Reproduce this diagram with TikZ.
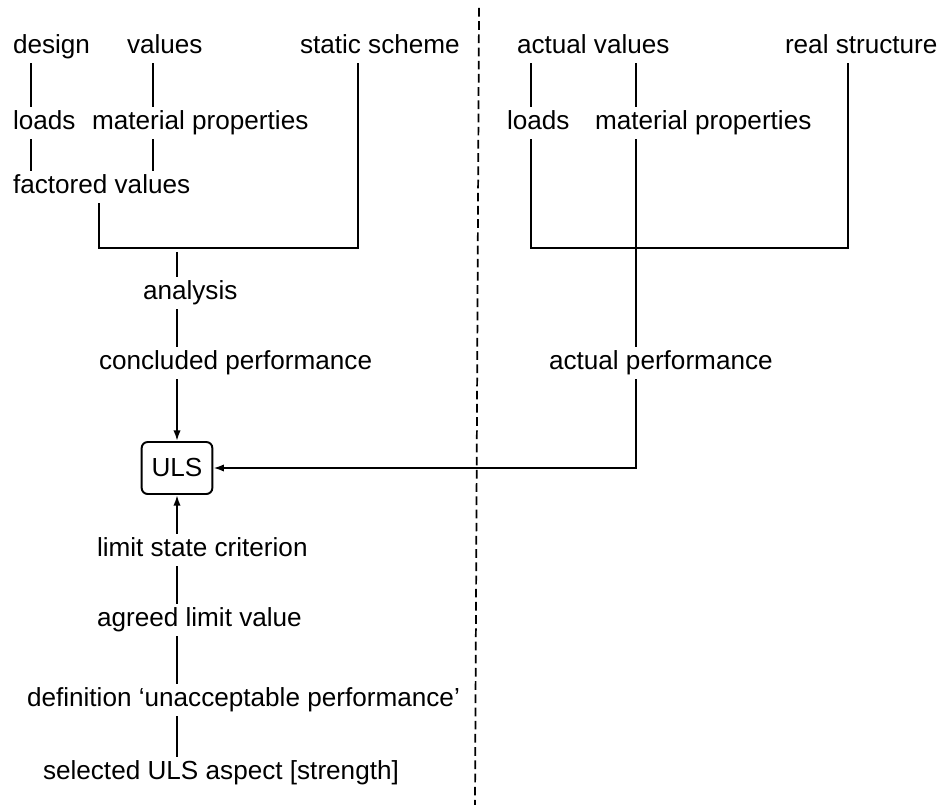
\documentclass[tikz,border=0pt]{standalone}
\usepackage{fontspec}
\setmainfont{Liberation Sans}
\usetikzlibrary{arrows.meta}
\begin{document}
\begin{tikzpicture}[x=0.75pt,y=-0.75pt,
  lbl/.style={anchor=west,inner sep=0pt,outer sep=0pt,text height=14.1pt,text depth=4.1pt,
    font=\fontsize{19.6}{23}\selectfont},
  ln/.style={line width=1.45pt,shorten <=3pt,shorten >=3pt},
  brk/.style={line width=1.45pt,shorten <=3pt,shorten >=3pt},
  arr/.style={line width=1.45pt,shorten <=3pt,-{Latex[length=8pt,width=5.5pt]}},
  ulsbox/.style={draw,line width=1.45pt,rounded corners=4.5pt,minimum width=53pt,minimum height=39pt,
    inner sep=0pt,font=\fontsize{19.6}{23}\selectfont},
  sep/.style={line width=1.3pt,dash pattern=on 6.5pt off 3.4pt}]
\useasboundingbox (0,0) rectangle (945,805);
% left column text
\node[lbl] (design) at (13,47) {design};
\node[lbl] (values) at (127,47) {values};
\node[lbl] (static) at (300,47) {static scheme};
\node[lbl] (loadsL) at (13,123) {loads};
\node[lbl] (matL) at (92,123) {material properties};
\node[lbl] (fact) at (13,187) {factored values};
\node[lbl] (anal) at (143,293) {analysis};
\node[lbl] (concl) at (99,363) {concluded performance};
\node[ulsbox] (uls) at (177,468) {ULS};
\node[lbl] (limit) at (97,550) {limit state criterion};
\node[lbl] (agreed) at (97,620) {agreed limit value};
\node[lbl] (defin) at (27,700) {definition ‘unacceptable performance’};
\node[lbl] (select) at (43,773) {selected ULS aspect [strength]};
% right column text
\node[lbl] (actval) at (517,47) {actual values};
\node[lbl] (real) at (785,47) {real structure};
\node[lbl] (loadsR) at (507,123) {loads};
\node[lbl] (matR) at (595,123) {material properties};
\node[lbl] (actperf) at (549,363) {actual performance};
% x positions of connectors
\coordinate (xa) at (31,0);
\coordinate (xb) at (153,0);
\coordinate (xf) at (99,0);
\coordinate (xs) at (358,0);
\coordinate (xc) at (177,0);
\coordinate (xr1) at (531,0);
\coordinate (xr2) at (636,0);
\coordinate (xr3) at (848,0);
\coordinate (jl) at (177,248);
\coordinate (jr) at (636,248);
% left connectors
\draw[ln] (design.south -| xa) -- (loadsL.north -| xa);
\draw[ln] (values.south -| xb) -- (matL.north -| xb);
\draw[ln] (loadsL.south -| xa) -- (fact.north -| xa);
\draw[ln] (matL.south -| xb) -- (fact.north -| xb);
\draw[brk] (fact.south -| xf) |- (jl) -| (static.south -| xs);
\draw[ln] (jl) -- (anal.north -| xc);
\draw[ln] (anal.south -| xc) -- (concl.north -| xc);
\draw[arr] (concl.south -| xc) -- (uls.north);
\draw[arr] (limit.north -| xc) -- (uls.south);
\draw[ln] (limit.south -| xc) -- (agreed.north -| xc);
\draw[ln] (agreed.south -| xc) -- (defin.north -| xc);
\draw[ln] (defin.south -| xc) -- (select.north -| xc);
% right connectors
\draw[ln] (actval.south -| xr1) -- (loadsR.north -| xr1);
\draw[ln] (actval.south -| xr2) -- (matR.north -| xr2);
\draw[brk] (loadsR.south -| xr1) |- (jr) -| (real.south -| xr3);
\draw[ln] (matR.south -| xr2) -- (actperf.north -| xr2);
\draw[arr] (actperf.south -| xr2) |- (uls.east);
% separator
\draw[sep] (479,8) -- (475,805);
\end{tikzpicture}
\end{document}
